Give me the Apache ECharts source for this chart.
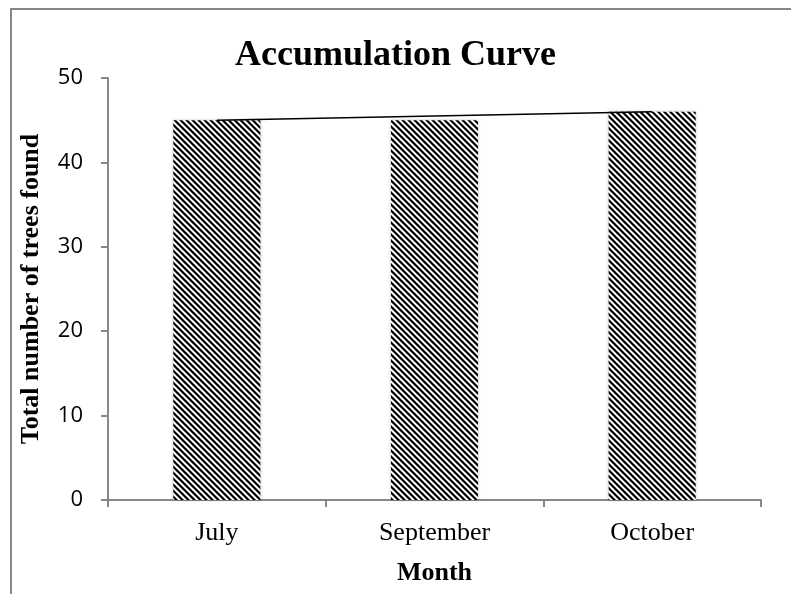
<!DOCTYPE html>
<html>
<head>
<meta charset="utf-8">
<script src="https://cdn.jsdelivr.net/npm/echarts@6/dist/echarts.min.js"></script>
<style>
  html, body { margin: 0; padding: 0; background: #fff; }
</style>
</head>
<body>
<div id="accumulationChart" style="width: 791px; height: 594px;"></div>
<script>
// data
const months = ['July', 'September', 'October']
const treesFound = [45, 45, 46]
const curveValues = [45, 45.5, 46]
const yTicks = { min: 0, max: 50, interval: 10 }

// striped fill like the original hatch
function makeStripes() {
  const n = 6
  const shades = [0, 0, 110, 255, 255, 110]
  const c = document.createElement('canvas')
  c.width = n
  c.height = n
  const ctx = c.getContext('2d')
  const img = ctx.createImageData(n, n)
  for (let y = 0; y < n; y++) {
    for (let x = 0; x < n; x++) {
      const d = ((x - y) % n + n) % n
      const v = shades[d]
      const i = (y * n + x) * 4
      img.data[i] = v
      img.data[i + 1] = v
      img.data[i + 2] = v
      img.data[i + 3] = 255
    }
  }
  ctx.putImageData(img, 0, 0)
  return c
}

const axisGray = '#878787'
const chart = echarts.init(document.getElementById('accumulationChart'))
chart.setOption({
  animation: false,
  title: {
    text: 'Accumulation Curve',
    left: 'center',
    top: 33,
    textStyle: {
      fontFamily: 'Liberation Serif',
      fontWeight: 'bold',
      fontSize: 36,
      color: '#000'
    }
  },
  grid: { left: 108, right: 30, top: 78, bottom: 94 },
  graphic: [{
    type: 'polyline',
    shape: { points: [[11, 594], [11, 9], [791, 9]] },
    style: { stroke: axisGray, lineWidth: 2, fill: null }
  }],
  xAxis: {
    type: 'category',
    data: months,
    name: 'Month',
    nameLocation: 'middle',
    nameGap: 60,
    nameTextStyle: {
      fontFamily: 'Liberation Serif',
      fontWeight: 'bold',
      fontSize: 26,
      color: '#000'
    },
    axisLine: { lineStyle: { color: axisGray, width: 2 } },
    axisTick: { show: true, interval: 0, length: 7, lineStyle: { color: axisGray, width: 2 } },
    axisLabel: {
      margin: 20,
      fontFamily: 'Liberation Serif',
      fontSize: 26,
      color: '#000'
    }
  },
  yAxis: {
    type: 'value',
    min: yTicks.min,
    max: yTicks.max,
    interval: yTicks.interval,
    name: 'Total number of trees found',
    nameLocation: 'middle',
    nameGap: 64,
    nameTextStyle: {
      fontFamily: 'Liberation Serif',
      fontWeight: 'bold',
      fontSize: 26,
      color: '#000'
    },
    axisLine: { show: true, lineStyle: { color: axisGray, width: 2 } },
    axisTick: { show: true, length: 7, lineStyle: { color: axisGray, width: 2 } },
    splitLine: { show: false },
    axisLabel: {
      margin: 25,
      fontFamily: 'Open Sans',
      fontSize: 22,
      color: '#000'
    }
  },
  series: [
    {
      name: 'Trees found',
      type: 'bar',
      data: treesFound,
      barWidth: '40%',
      itemStyle: {
        color: { image: makeStripes(), repetition: 'repeat' },
        shadowColor: 'rgba(0,0,0,0.25)',
        shadowBlur: 3
      }
    },
    {
      name: 'Accumulation',
      type: 'line',
      data: curveValues,
      symbol: 'none',
      lineStyle: { color: '#000', width: 1.5 }
    }
  ]
})
</script>
</body>
</html>
